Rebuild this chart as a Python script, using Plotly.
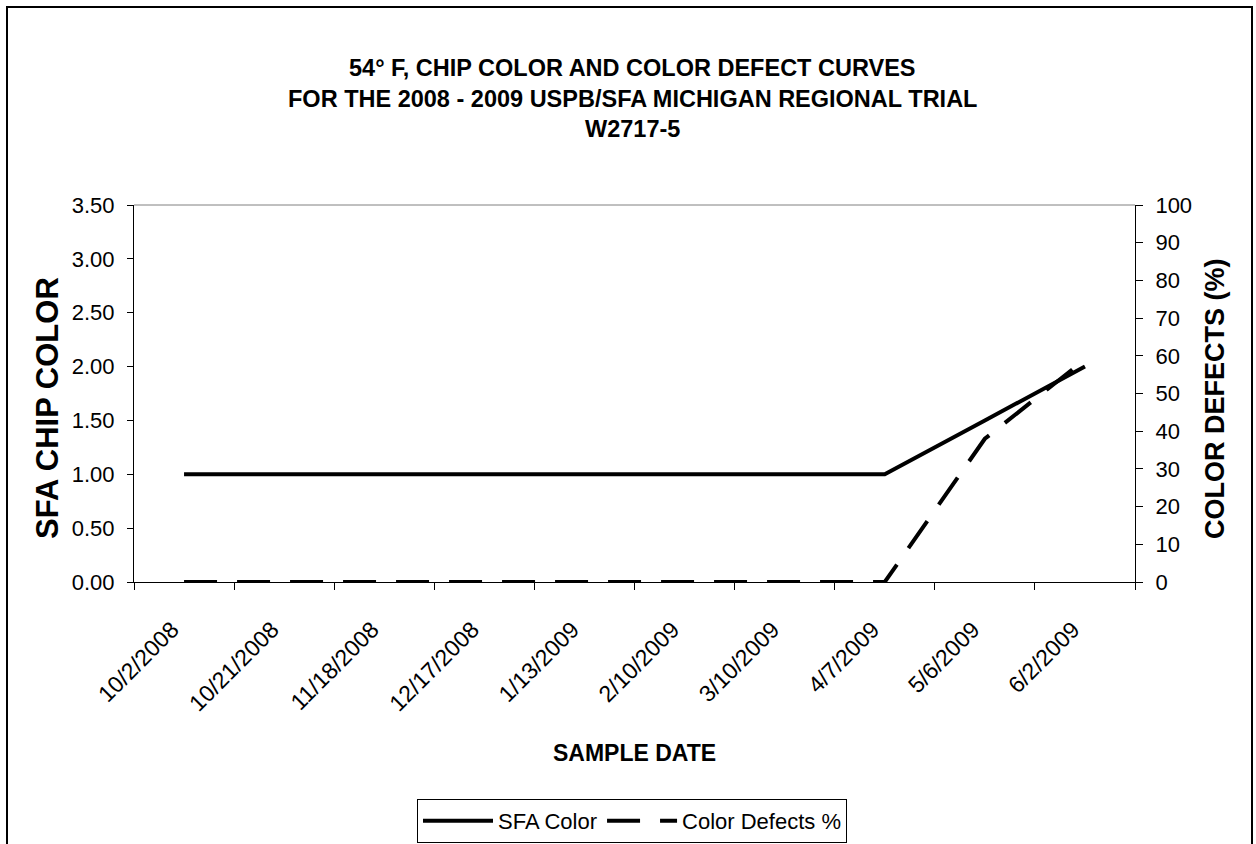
import plotly.graph_objects as go

sample_dates = ["10/2/2008", "10/21/2008", "11/18/2008", "12/17/2008", "1/13/2009",
                "2/10/2009", "3/10/2009", "4/7/2009", "5/6/2009", "6/2/2009"]
sfa_color = [1.0, 1.0, 1.0, 1.0, 1.0, 1.0, 1.0, 1.0, 1.5, 2.0]
color_defects = [0, 0, 0, 0, 0, 0, 0, 0, 38, 59]

title_lines = ["54° F, CHIP COLOR AND COLOR DEFECT CURVES",
               "FOR THE 2008 - 2009 USPB/SFA MICHIGAN REGIONAL TRIAL",
               "W2717-5"]
x_title = "SAMPLE DATE"
y_title = "SFA CHIP COLOR"
y2_title = "COLOR DEFECTS (%)"

W, H = 1256, 844
L, R, T, B = 134, 121, 205, 262
pw, ph = W - L - R, H - T - B

def px_to_paper_y(py):
    return (H - B - py) / ph

def px_to_paper_x(px):
    return (px - L) / pw

FONT = "Liberation Sans, Arial, sans-serif"

fig = go.Figure()
fig.add_trace(go.Scatter(x=sample_dates, y=sfa_color, name="SFA Color", mode="lines",
                         line=dict(color="black", width=4)))
fig.add_trace(go.Scatter(x=sample_dates, y=color_defects, name="Color Defects %", mode="lines",
                         yaxis="y2", line=dict(color="black", width=4, dash="33px,20px")))

annotations = []
for txt, py in zip(title_lines, [68, 99, 129]):
    annotations.append(dict(text="<b>" + txt + "</b>", xref="paper", yref="paper",
                            x=px_to_paper_x(632), y=px_to_paper_y(py), xanchor="center",
                            yanchor="middle", showarrow=False,
                            font=dict(family=FONT, size=23.5, color="black")))
annotations.append(dict(text="<b>" + x_title + "</b>", xref="paper", yref="paper",
                        x=px_to_paper_x(634), y=px_to_paper_y(753), xanchor="center",
                        yanchor="middle", showarrow=False,
                        font=dict(family=FONT, size=23, color="black")))
annotations.append(dict(text="<b>" + y_title + "</b>", xref="paper", yref="paper",
                        x=px_to_paper_x(47), y=px_to_paper_y(408), xanchor="center",
                        yanchor="middle", showarrow=False, textangle=-90,
                        font=dict(family=FONT, size=31, color="black")))
annotations.append(dict(text="<b>" + y2_title + "</b>", xref="paper", yref="paper",
                        x=px_to_paper_x(1215), y=px_to_paper_y(399), xanchor="center",
                        yanchor="middle", showarrow=False, textangle=-90,
                        font=dict(family=FONT, size=27, color="black")))

fig.update_layout(
    width=W, height=H,
    margin=dict(l=L, r=R, t=T, b=B, pad=0, autoexpand=False),
    paper_bgcolor="white", plot_bgcolor="white",
    showlegend=True,
    legend=dict(orientation="h", x=px_to_paper_x(632), xanchor="center", y=px_to_paper_y(799),
                yanchor="top", bordercolor="black", borderwidth=1,
                font=dict(family=FONT, size=22, color="black"),
                itemwidth=70, bgcolor="white"),
    annotations=annotations,
    xaxis=dict(type="category", range=[-0.5, 9.5], tickson="boundaries", ticks="outside",
               ticklen=7, tickcolor="black", showline=True, linecolor="black", linewidth=1,
               showgrid=False, tickangle=-45, ticklabelstandoff=24, ticklabelshift=-12,
               automargin=False,
               tickfont=dict(family=FONT, size=23, color="black")),
    yaxis=dict(range=[0, 3.5], dtick=0.5, tickformat=".2f", ticks="outside", ticklen=6,
               tickcolor="black", showline=True, linecolor="black", linewidth=1, showgrid=False,
               zeroline=False, ticklabelstandoff=8, automargin=False,
               tickfont=dict(family=FONT, size=22, color="black")),
    yaxis2=dict(range=[0, 100], dtick=10, overlaying="y", side="right", ticks="outside", ticklen=7,
                tickcolor="black", showline=True, linecolor="black", linewidth=1, showgrid=False,
                zeroline=False, ticklabelstandoff=8, automargin=False,
                tickfont=dict(family=FONT, size=22, color="black")),
    shapes=[
        dict(type="line", xref="paper", yref="paper", x0=0, x1=1, y0=1, y1=1,
             line=dict(color="#808080", width=1)),
        dict(type="rect", xref="paper", yref="paper",
             x0=px_to_paper_x(7), x1=px_to_paper_x(1252), y0=px_to_paper_y(7), y1=px_to_paper_y(860),
             line=dict(color="black", width=2), fillcolor="rgba(0,0,0,0)", layer="above"),
    ],
)

fig.write_html("out.html")
